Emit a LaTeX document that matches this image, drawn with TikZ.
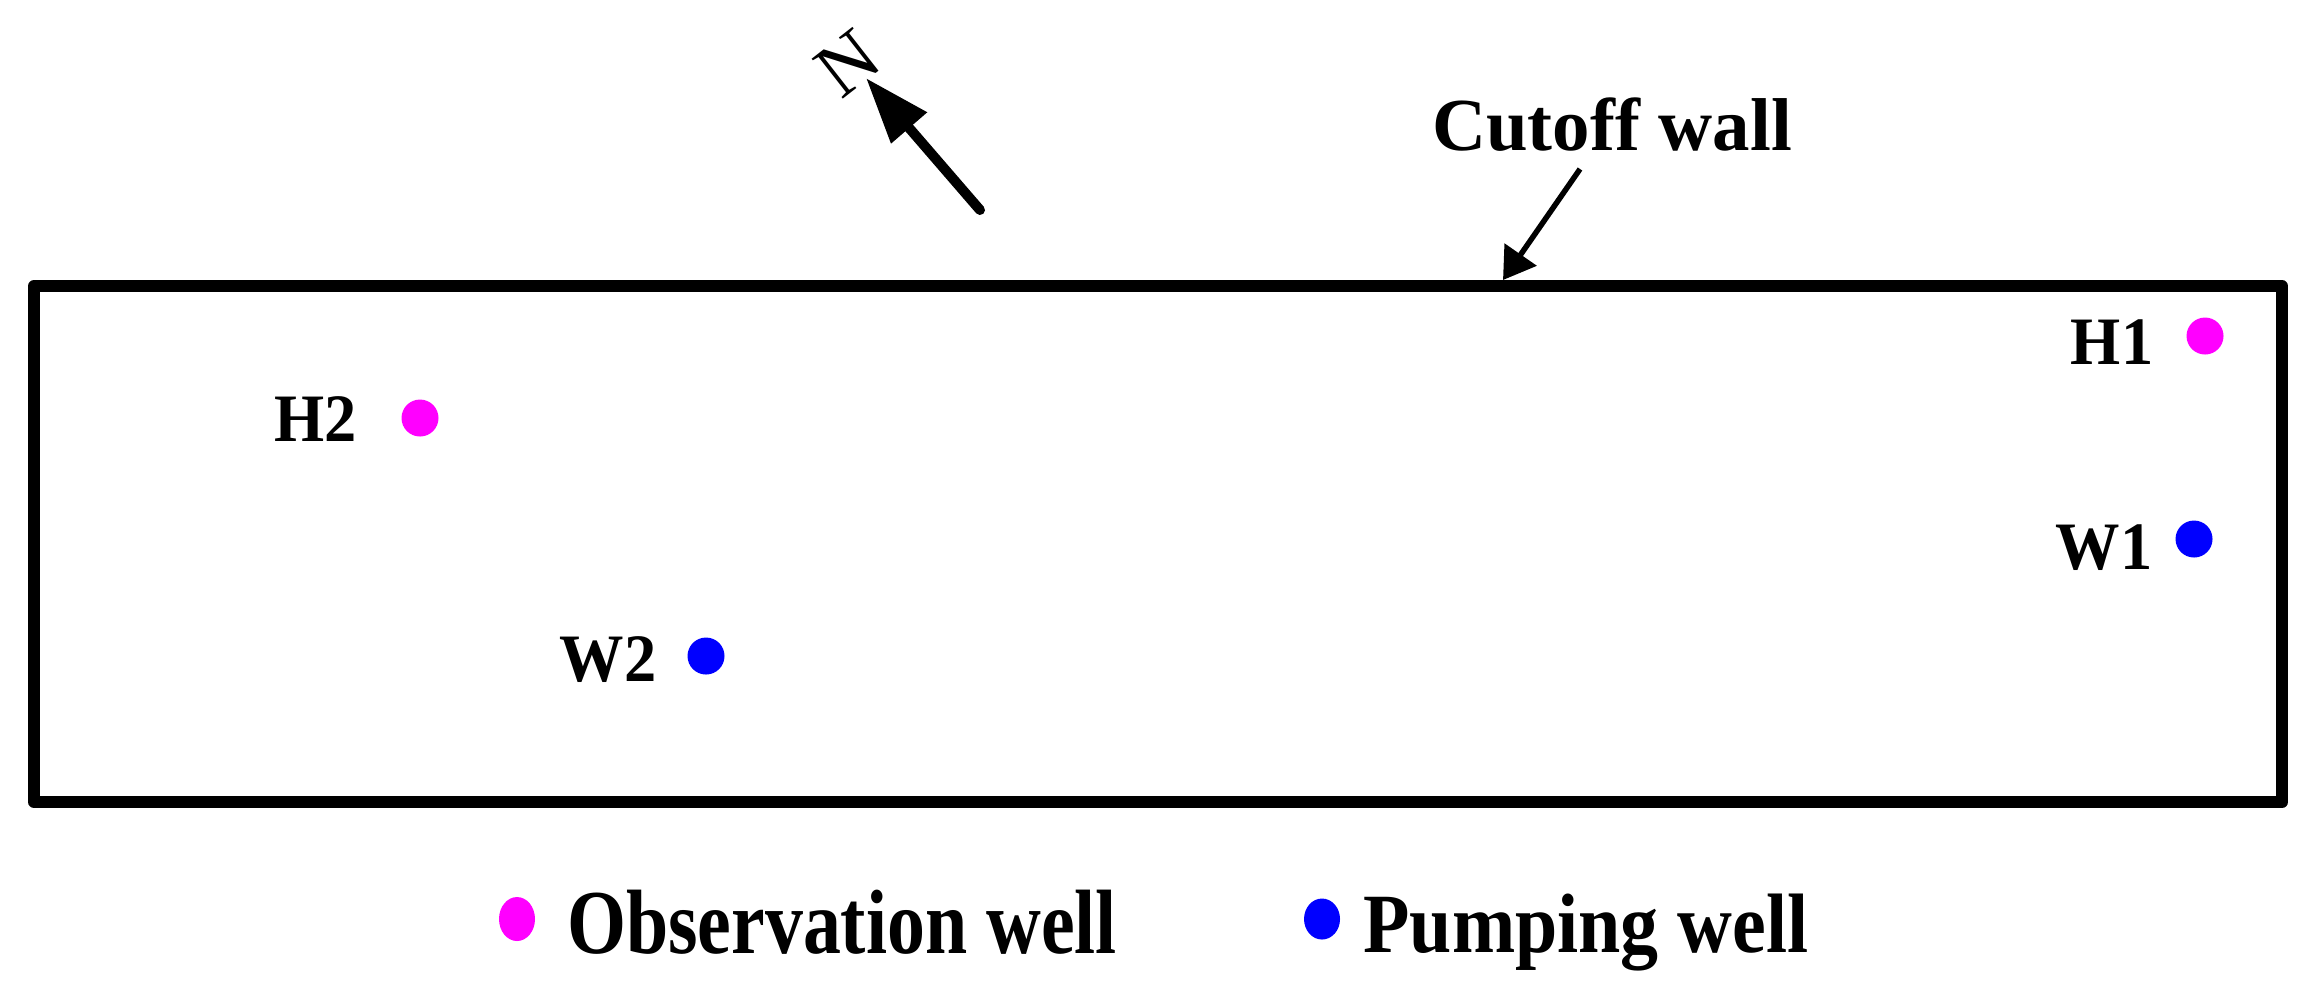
\documentclass[tikz,border=0pt]{standalone}
\usepackage{fontspec}
\setmainfont{Liberation Serif}
\usetikzlibrary{arrows.meta,shapes.geometric}
\definecolor{obsmag}{RGB}{255,0,255}
\definecolor{pumpblue}{RGB}{0,0,255}
\tikzset{
  wall/.style={line width=1.2mm},
  welldot/.style={circle,inner sep=0pt,minimum size=3.7mm},
  obsdot/.style={welldot,fill=obsmag},
  pumpdot/.style={welldot,fill=pumpblue},
  legdot/.style={ellipse,inner sep=0pt},
  welllab/.style={font=\bfseries\fontsize{19.3pt}{23pt}\selectfont,inner sep=0pt,anchor=base,xscale=0.95},
  bigtext/.style={font=\bfseries\fontsize{21.3pt}{25pt}\selectfont,inner sep=0pt,anchor=base},
}
\begin{document}
\begin{tikzpicture}[x=0.1mm,y=-0.1mm]
\useasboundingbox (0,0) rectangle (2317,982);
% cutoff wall
\draw[wall,line join=round] (34,286) rectangle (2282,802);
% wells
\node[obsdot] (H1dot) at (2205,336) {};
\node[welllab] (H1) at (2112,364) {H1};
\node[pumpdot] (W1dot) at (2194,539) {};
\node[welllab] (W1) at (2104,569) {W1};
\node[obsdot] (H2dot) at (420,418) {};
\node[welllab] (H2) at (316,441) {H2};
\node[pumpdot] (W2dot) at (706,656) {};
\node[welllab] (W2) at (608,681) {W2};
% north arrow
\coordinate (Ntail) at (980,210);
\coordinate (Ntip) at (866,78);
\draw[line width=1.0mm,line cap=round,-{Triangle[length=6.6mm,width=4.5mm]}] (Ntail) -- (Ntip);
\node[font=\fontsize{22pt}{26pt}\selectfont,inner sep=0pt,rotate=38] (N) at (848,63) {N};
% cutoff wall label
\node[bigtext] (cut) at (1612,150) {Cutoff wall};
\coordinate (cuttail) at (1580,169);
\coordinate (cuttip) at (1503,280);
\draw[line width=0.55mm,-{Triangle[length=3.1mm,width=3.8mm]}] (cuttail) -- (cuttip);
% legend
\node[legdot,fill=obsmag,minimum width=3.6mm,minimum height=4.4mm] (Lobs) at (517,919) {};
\node[bigtext,font=\bfseries\fontsize{26pt}{30pt}\selectfont,xscale=0.83] (Lobstext) at (842,953) {Observation well};
\node[legdot,fill=pumpblue,minimum width=3.6mm,minimum height=4.1mm] (Lpump) at (1322,919) {};
\node[bigtext,font=\bfseries\fontsize{24pt}{28pt}\selectfont,xscale=0.90] (Lpumptext) at (1586,952) {Pumping well};
\end{tikzpicture}
\end{document}
